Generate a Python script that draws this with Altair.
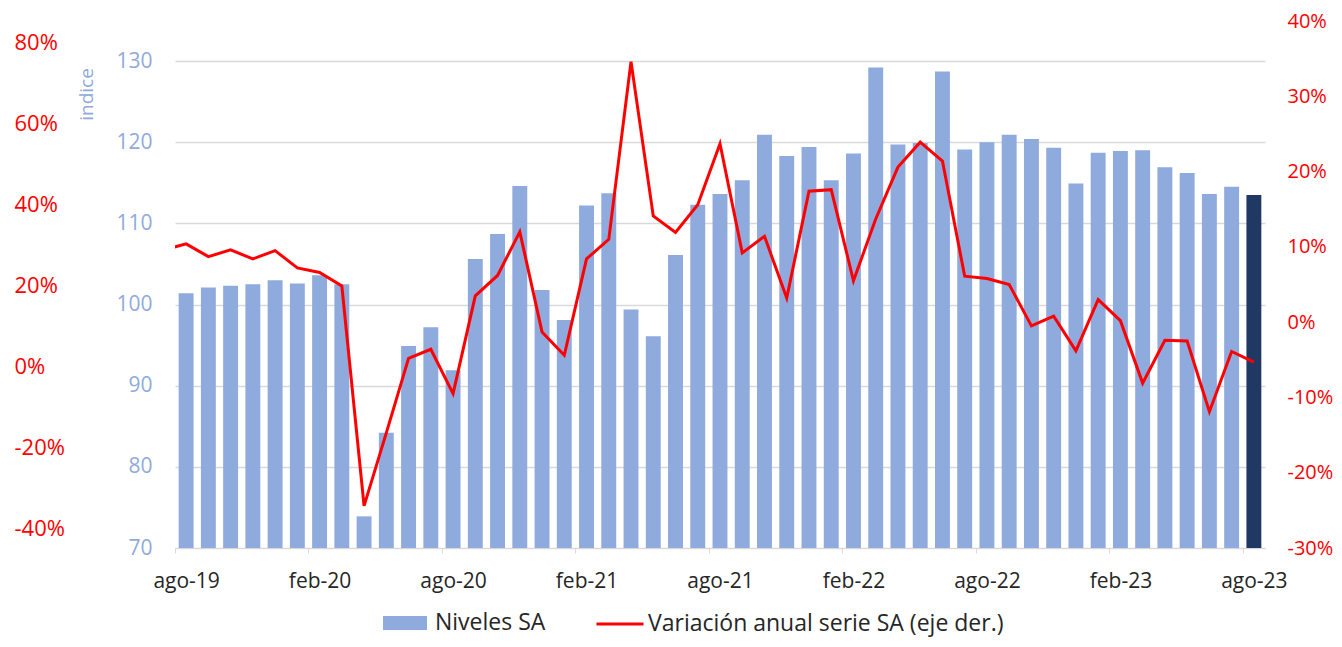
import altair as alt
import pandas as pd

# ---- data -----------------------------------------------------------------
meses = ["ago-19", "sep-19", "oct-19", "nov-19", "dic-19",
         "ene-20", "feb-20", "mar-20", "abr-20", "may-20", "jun-20", "jul-20",
         "ago-20", "sep-20", "oct-20", "nov-20", "dic-20",
         "ene-21", "feb-21", "mar-21", "abr-21", "may-21", "jun-21", "jul-21",
         "ago-21", "sep-21", "oct-21", "nov-21", "dic-21",
         "ene-22", "feb-22", "mar-22", "abr-22", "may-22", "jun-22", "jul-22",
         "ago-22", "sep-22", "oct-22", "nov-22", "dic-22",
         "ene-23", "feb-23", "mar-23", "abr-23", "may-23", "jun-23", "jul-23",
         "ago-23"]

niveles = [101.4, 102.1, 102.3, 102.5, 103.0, 102.6, 103.6, 102.5,
           73.9, 84.2, 94.9, 97.2, 91.9,
           105.6, 108.7, 114.6, 101.8, 98.1, 112.2, 113.7,
           99.4, 96.1, 106.1, 112.3, 113.6, 115.3, 120.9, 118.3, 119.4, 115.3,
           118.6, 129.2, 119.7, 119.9, 128.7, 119.1, 120.0, 120.9, 120.4, 119.3,
           114.9, 118.7, 118.9, 119.0, 116.9, 116.2, 113.6, 114.5, 113.5]

# annual variation (%), series starts one month earlier (jul-19)
meses_var = ["jul-19"] + meses
variacion = [9.6,
             10.4, 8.7, 9.6, 8.4, 9.5, 7.2, 6.6, 4.8,
             -24.4, -14.7, -4.8, -3.6, -9.5,
             3.5, 6.2, 12.0, -1.3, -4.4, 8.4, 11.0,
             34.6, 14.1, 11.9, 15.6, 23.7, 9.2, 11.4, 3.2, 17.4, 17.6,
             5.5, 13.7, 20.6, 23.9, 21.4, 6.1, 5.8, 5.0, -0.5, 0.8,
             -3.8, 3.0, 0.2, -8.1, -2.4, -2.5, -11.9, -3.9, -5.3]

etiquetas_x = ["ago-19", "feb-20", "ago-20", "feb-21", "ago-21",
               "feb-22", "ago-22", "feb-23", "ago-23"]

serie_barras = "Niveles SA"
serie_linea = "Variación anual serie SA (eje der.)"

df_bar = pd.DataFrame({
    "mes": meses,
    "idx": list(range(len(meses))),
    "valor": niveles,
    "serie": serie_barras,
})
df_line = pd.DataFrame({
    "mes": meses_var,
    "idx": list(range(-1, len(meses_var) - 1)),
    "var": [v / 100 for v in variacion],
    "serie": serie_linea,
})

# ---- style ----------------------------------------------------------------
FONT = "Open Sans"
BLUE = "#8FAADC"
NAVY = "#203864"
RED = "#FF0000"
GRID = "#D9D9D9"
TXT = "#262626"

W, H = 1090, 527
BAND = W / len(meses)
x_idx = [meses.index(m) for m in etiquetas_x]
label_expr = "[" + ",".join(f"'{m}'" for m in meses) + "][datum.value]"

x_scale = alt.Scale(domain=[-0.5, len(meses) - 0.5], nice=False, zero=False)
x_axis = alt.Axis(values=x_idx, labelExpr=label_expr, title=None,
                  grid=False, domain=True, domainColor=GRID, domainWidth=1,
                  ticks=True, tickColor=GRID, tickSize=5, tickWidth=1,
                  tickOffset=-BAND / 2, labelOffset=BAND / 2,
                  labelFontSize=21, labelColor=TXT, labelFont=FONT,
                  labelBaseline="alphabetic", labelPadding=34, labelFlush=False,
                  labelOverlap=False)
pct_expr = "replace(datum.label, '\u2212', '-')"

bars = alt.Chart(df_bar).transform_calculate(
    x0="datum.idx - 0.335", x1="datum.idx + 0.335"
).mark_bar().encode(
    x=alt.X("x0:Q", scale=x_scale, axis=x_axis),
    x2="x1:Q",
    y=alt.Y("valor:Q",
            scale=alt.Scale(domain=[70, 134.93], nice=False, zero=False),
            axis=alt.Axis(values=[70, 80, 90, 100, 110, 120, 130], title="indice",
                          grid=True, gridColor=GRID, gridWidth=1.5,
                          domain=False, ticks=False,
                          labelFontSize=21, labelColor=BLUE, labelFont=FONT, labelPadding=23,
                          titleColor=BLUE, titleFont=FONT, titleFontSize=19,
                          titleFontWeight="normal", titleX=-89, titleY=73,
                          titleAlign="center", titleBaseline="middle")),
    y2=alt.datum(70),
    color=alt.condition(
        f"datum.idx == {len(meses) - 1}",
        alt.value(NAVY),
        alt.Color("serie:N", scale=alt.Scale(domain=[serie_barras], range=[BLUE]),
                  legend=alt.Legend(orient="none", legendX=208, legendY=580, title=None,
                                    symbolType="M-1,-0.32H1V0.32H-1Z", symbolSize=1936,
                                    symbolStrokeWidth=0, symbolOpacity=1,
                                    labelFontSize=23, labelFont=FONT, labelColor=TXT,
                                    labelOffset=8, labelLimit=0, padding=0)),
    ),
)

line = alt.Chart(df_line).mark_line(strokeWidth=3, clip=True).encode(
    x=alt.X("idx:Q", scale=x_scale, axis=x_axis),
    y=alt.Y("var:Q",
            scale=alt.Scale(domain=[-0.30, 0.40], nice=False, zero=False),
            axis=alt.Axis(orient="right", values=[-0.3, -0.2, -0.1, 0, 0.1, 0.2, 0.3, 0.4],
                          format=".0%", labelExpr=pct_expr,
                          title=None, grid=False, domain=False, ticks=False,
                          labelFontSize=20, labelColor=RED, labelFont=FONT, labelPadding=22)),
    stroke=alt.Stroke("serie:N", scale=alt.Scale(domain=[serie_linea], range=[RED]),
                      legend=alt.Legend(orient="none", legendX=420, legendY=578, title=None,
                                        symbolType="stroke", symbolSize=2209,
                                        symbolStrokeWidth=3,
                                        labelFontSize=23, labelFont=FONT, labelColor=TXT,
                                        labelOffset=3, labelLimit=0, padding=0)),
)

ghost = alt.Chart(df_line).mark_line(opacity=0).encode(
    x=alt.X("idx:Q", scale=x_scale, axis=x_axis),
    y=alt.Y("var:Q",
            scale=alt.Scale(domain=[-0.448, 0.852], nice=False, zero=False),
            axis=alt.Axis(orient="left", values=[-0.4, -0.2, 0, 0.2, 0.4, 0.6, 0.8],
                          format=".0%", labelExpr=pct_expr,
                          title=None, grid=False, domain=False, ticks=False,
                          offset=161, labelAlign="left", labelPadding=0,
                          labelFontSize=22, labelColor=RED, labelFont=FONT)),
)

chart = alt.layer(bars, line, ghost).resolve_scale(
    y="independent"
).properties(
    width=W, height=H,
    autosize=alt.AutoSizeParams(type="none"),
    padding={"left": 167, "top": 13, "right": 69, "bottom": 91},
).configure(background="white", font=FONT).configure_view(stroke=None)

chart.save("out.html", embed_options={"renderer": "svg", "actions": False})
